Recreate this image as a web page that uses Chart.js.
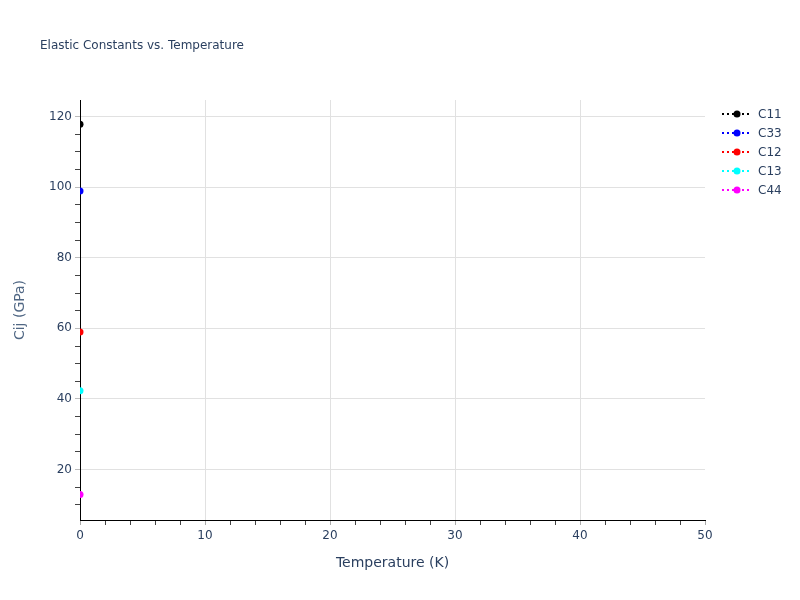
<!DOCTYPE html>
<html>
<head>
<meta charset="utf-8">
<script src="https://cdn.jsdelivr.net/npm/chart.js@4"></script>
<style>
  html, body { margin: 0; padding: 0; background: #fff; }
  #wrap { width: 800px; height: 600px; }
</style>
</head>
<body>
<div id="wrap"><canvas id="elasticChart"></canvas></div>
<script>
// data: one point per constant, at T = 0 K
const temperatures = [0];
const seriesNames = ['C11', 'C33', 'C12', 'C13', 'C44'];
const seriesColors = ['#000000', '#0000ff', '#ff0000', '#00ffff', '#ff00ff'];
const c11 = [117.8];
const c33 = [98.9];
const c12 = [59.0];
const c13 = [42.3];
const c44 = [12.9];
const xTickValues = [0, 2, 4, 6, 8, 10, 12, 14, 16, 18, 20, 22, 24, 26, 28, 30, 32, 34, 36, 38, 40, 42, 44, 46, 48, 50];
const yTickValues = [10, 15, 20, 25, 30, 35, 40, 45, 50, 55, 60, 65, 70, 75, 80, 85, 90, 95, 100, 105, 110, 115, 120];

const FONT = '"DejaVu Sans", Verdana, sans-serif';
const TEXT = '#2a3f5f';

const seriesValues = [c11, c33, c12, c13, c44];

const datasets = seriesNames.map((name, i) => ({
    label: name,
    data: temperatures.map((t, j) => ({ x: t, y: seriesValues[i][j] })),
    borderColor: seriesColors[i],
    backgroundColor: seriesColors[i],
    borderWidth: 2,
    borderDash: [2, 3],
    pointRadius: 3.5,
    pointHoverRadius: 3.5,
    pointBorderWidth: 0,
    showLine: true
}));

// title and legend drawn by hand, plotly style
const decorations = {
    id: 'decorations',
    afterDraw(chart) {
        const ctx = chart.ctx;
        ctx.save();
        ctx.fillStyle = TEXT;
        ctx.font = '12px ' + FONT;
        ctx.textBaseline = 'middle';
        ctx.textAlign = 'left';
        ctx.fillText('Elastic Constants vs. Temperature', 40, 46);

        chart.data.datasets.forEach((ds, i) => {
            const y = 114 + i * 19;
            ctx.strokeStyle = ds.borderColor;
            ctx.lineWidth = 2;
            ctx.setLineDash([2, 3]);
            ctx.beginPath();
            ctx.moveTo(722, y);
            ctx.lineTo(752, y);
            ctx.stroke();
            ctx.setLineDash([]);
            ctx.fillStyle = ds.backgroundColor;
            ctx.beginPath();
            ctx.arc(737, y, 3.5, 0, Math.PI * 2);
            ctx.fill();
            ctx.fillStyle = TEXT;
            ctx.font = '12px ' + FONT;
            ctx.fillText(ds.label, 758, y + 1);
        });
        ctx.restore();
    }
};

new Chart(document.getElementById('elasticChart'), {
    type: 'line',
    data: { datasets: datasets },
    plugins: [decorations],
    options: {
        responsive: true,
        maintainAspectRatio: false,
        animation: false,
        layout: { padding: { top: 100, right: 95, left: 0, bottom: 0 } },
        plugins: {
            legend: { display: false },
            title: { display: false },
            tooltip: { enabled: false }
        },
        scales: {
            x: {
                type: 'linear',
                min: 0,
                max: 50,
                afterBuildTicks: s => { s.ticks = xTickValues.map(v => ({ value: v })); },
                afterFit: s => { s.height = 80; },
                border: { color: '#000000', width: 1 },
                grid: {
                    color: c => (c.tick && c.tick.value % 10 === 0 && c.tick.value > 0 && c.tick.value < 50) ? '#e1e1e1' : 'rgba(0,0,0,0)',
                    tickColor: c => (c.tick && c.tick.value % 10 === 0) ? '#aaaaaa' : '#444444',
                    tickLength: 5,
                    lineWidth: 1
                },
                ticks: {
                    autoSkip: false,
                    maxRotation: 0,
                    padding: 4,
                    color: TEXT,
                    font: { family: FONT, size: 12 },
                    callback: v => (v % 10 === 0 ? String(v) : '')
                },
                title: {
                    display: true,
                    text: 'Temperature (K)',
                    color: TEXT,
                    font: { family: FONT, size: 14 },
                    padding: { top: 28, bottom: 28 }
                }
            },
            y: {
                type: 'linear',
                min: 5.7,
                max: 124.7,
                afterBuildTicks: s => { s.ticks = yTickValues.map(v => ({ value: v })); },
                afterFit: s => { s.width = 80; },
                border: { color: '#000000', width: 1 },
                grid: {
                    color: c => (c.tick && c.tick.value % 20 === 0) ? '#e1e1e1' : 'rgba(0,0,0,0)',
                    tickColor: c => (c.tick && c.tick.value % 20 === 0) ? '#bbbbbb' : '#444444',
                    tickLength: 5,
                    lineWidth: 1
                },
                ticks: {
                    autoSkip: false,
                    padding: 3,
                    color: TEXT,
                    font: { family: FONT, size: 12 },
                    callback: v => (v % 20 === 0 ? String(v) : '')
                },
                title: {
                    display: true,
                    text: 'Cij (GPa)',
                    color: '#506784',
                    font: { family: FONT, size: 14 },
                    padding: { top: 12, bottom: 12 }
                }
            }
        }
    }
});
</script>
</body>
</html>
